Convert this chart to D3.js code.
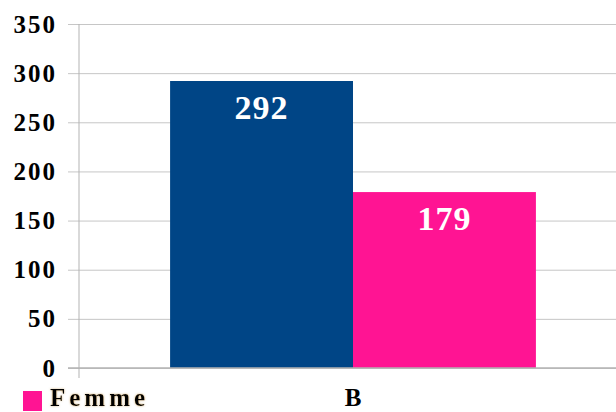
<!DOCTYPE html>
<html>
<head>
<meta charset="utf-8">
<script src="https://cdn.jsdelivr.net/npm/d3@7"></script>
<style>
  html, body { margin: 0; padding: 0; background: #fff; }
  svg { display: block; }
  text { font-family: "Liberation Serif", "Times New Roman", serif; font-weight: bold; }
</style>
</head>
<body>
<svg id="chart" width="616" height="412"></svg>
<script>
// Chart data
const categories = ["B"];
const seriesNames = ["Homme", "Femme"];
const seriesColors = ["#004586", "#ff1493"];
const seriesValues = [[292], [179]];
const yTicks = [0, 50, 100, 150, 200, 250, 300, 350];
const legendItems = ["Femme"];
const legendColors = ["#ff1493"];

const W = 616, H = 412;
const plot = { left: 79, right: 627, top: 24, bottom: 368 };

const svg = d3.select("#chart");

const y = d3.scaleLinear().domain([0, 350]).range([plot.bottom, plot.top]);

const x0 = d3.scaleBand()
  .domain(categories)
  .range([plot.left, plot.right])
  .paddingInner(0)
  .paddingOuter(0.249);

const x1 = d3.scaleBand()
  .domain(seriesNames)
  .range([0, x0.bandwidth()])
  .padding(0);

// Gridlines and y axis
const yAxis = d3.axisLeft(y)
  .tickValues(yTicks)
  .tickSize(-(W - plot.left))
  .tickPadding(22)
  .tickFormat(d3.format("d"));

const gy = svg.append("g")
  .attr("transform", `translate(${plot.left},0)`)
  .call(yAxis);
gy.select(".domain").remove();
gy.selectAll(".tick line")
  .attr("x1", -11)
  .attr("stroke", "#c6c6c6")
  .attr("stroke-width", 1);
gy.selectAll(".tick text")
  .attr("fill", "#000")
  .style("font-size", "25px")
  .style("letter-spacing", "2px")
  .style("font-family", "'Liberation Serif', serif")
  .style("font-weight", "bold");

// Bars
const groups = svg.append("g")
  .selectAll("g")
  .data(categories)
  .join("g")
  .attr("transform", d => `translate(${x0(d)},0)`);

const barData = (c, ci) => seriesNames.map((s, si) => ({ s, si, v: seriesValues[si][ci] }));

groups.selectAll("rect")
  .data((c, ci) => barData(c, ci))
  .join("rect")
  .attr("x", d => x1(d.s))
  .attr("y", d => y(d.v))
  .attr("width", x1.bandwidth())
  .attr("height", d => y(0) - y(d.v))
  .attr("fill", d => seriesColors[d.si]);

groups.selectAll("text.val")
  .data((c, ci) => barData(c, ci))
  .join("text")
  .attr("class", "val")
  .attr("x", d => x1(d.s) + x1.bandwidth() / 2)
  .attr("y", d => y(d.v) + 38)
  .attr("text-anchor", "middle")
  .attr("fill", "#fff")
  .style("font-size", "34px")
  .style("letter-spacing", "1px")
  .text(d => d.v);

// Baseline and vertical axis
svg.append("line")
  .attr("x1", plot.left - 11).attr("x2", W)
  .attr("y1", y(0)).attr("y2", y(0))
  .attr("stroke", "#b3b3b3").attr("stroke-width", 1.5);
svg.append("line")
  .attr("x1", plot.left).attr("x2", plot.left)
  .attr("y1", plot.top).attr("y2", y(0) + 10)
  .attr("stroke", "#b3b3b3").attr("stroke-width", 1);

// Category label
svg.selectAll("text.cat")
  .data(categories)
  .join("text")
  .attr("class", "cat")
  .attr("x", d => x0(d) + x0.bandwidth() / 2)
  .attr("y", 406)
  .attr("text-anchor", "middle")
  .attr("fill", "#000")
  .style("font-size", "25px")
  .text(d => d);

// Legend
const defs = svg.append("defs");
const glow = defs.append("filter").attr("id", "glow").attr("x", "-10%").attr("y", "-20%").attr("width", "120%").attr("height", "140%");
glow.append("feGaussianBlur").attr("in", "SourceAlpha").attr("stdDeviation", 1.2).attr("result", "b");
glow.append("feFlood").attr("flood-color", "#c8a060").attr("flood-opacity", 0.8);
glow.append("feComposite").attr("in2", "b").attr("operator", "in").attr("result", "g");
const fm = glow.append("feMerge");
fm.append("feMergeNode").attr("in", "g");
fm.append("feMergeNode").attr("in", "SourceGraphic");

const legend = svg.append("g");
legend.selectAll("rect")
  .data(legendItems)
  .join("rect")
  .attr("x", 23).attr("y", 391)
  .attr("width", 19).attr("height", 20)
  .attr("fill", (d, i) => legendColors[i]);
legend.selectAll("text")
  .data(legendItems)
  .join("text")
  .attr("x", 50).attr("y", 406)
  .attr("fill", "#000")
  .attr("filter", "url(#glow)")
  .style("font-size", "25px")
  .style("letter-spacing", "4px")
  .text(d => d);
</script>
</body>
</html>
